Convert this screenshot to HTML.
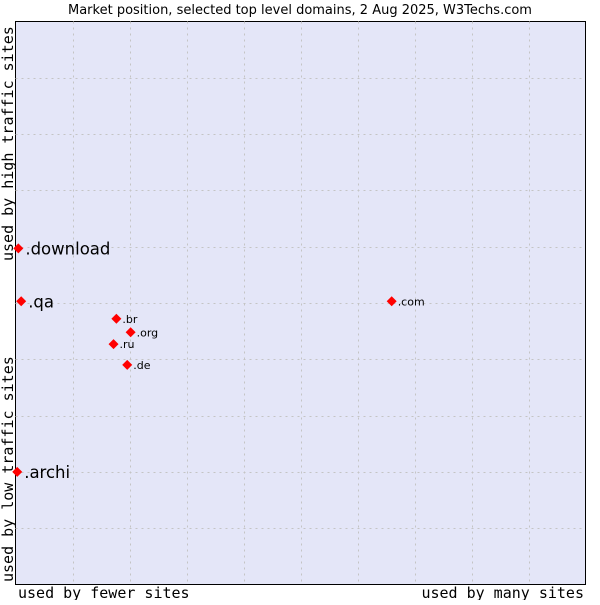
<!DOCTYPE html>
<html><head><meta charset="utf-8"><style>
body{margin:0;background:#fff;}
svg text{font-family:"DejaVu Sans",sans-serif;}
</style></head><body>
<svg width="600" height="600" xmlns="http://www.w3.org/2000/svg">
<text x="300" y="14" text-anchor="middle" font-size="13" fill="#000">Market position, selected top level domains, 2 Aug 2025, W3Techs.com</text>
<rect x="15.5" y="21.5" width="570" height="563" fill="#e4e6f8" stroke="#000" stroke-width="1"/>
<g id="grid"></g>
<g id="points"></g>
<text x="18" y="598" font-size="15" style="font-family:'DejaVu Sans Mono',monospace">used by fewer sites</text>
<text x="584" y="598" text-anchor="end" font-size="15" style="font-family:'DejaVu Sans Mono',monospace">used by many sites</text>
<text transform="translate(13,582) rotate(-90)" font-size="15" style="font-family:'DejaVu Sans Mono',monospace">used by low traffic sites</text>
<text transform="translate(13,261) rotate(-90)" font-size="15" style="font-family:'DejaVu Sans Mono',monospace">used by high traffic sites</text>
</svg>
<script>
const labels=[".download",".qa",".archi",".com",".br",".org",".ru",".de"];
const xVals=[0.05,0.1,0.03,6.6,1.77,2.02,1.72,1.96];
const yVals=[5.97,5.03,2.0,5.03,4.72,4.48,4.27,3.9];
const big=[true,true,true,false,false,false,false,false];
const NS="http://www.w3.org/2000/svg";
const x0=15.5,x1=585.5,y0=584.5,y1=21.5;
const sx=v=>x0+v/10*(x1-x0);
const sy=v=>y0-v/10*(y0-y1);
const grid=document.getElementById('grid');
for(let i=1;i<10;i++){
  const l=document.createElementNS(NS,'line');
  
  
  const x=Math.round(sx(i))+0.5;
  l.setAttribute('x1',x);l.setAttribute('x2',x);l.setAttribute('y1',y1);l.setAttribute('y2',y0);
  l.setAttribute('stroke','#c4c4c4');l.setAttribute('stroke-dasharray','2,4');
  grid.appendChild(l);
  const h=document.createElementNS(NS,'line');
  
  
  const y=Math.round(sy(i))+0.5;
  h.setAttribute('x1',x0);h.setAttribute('x2',x1);h.setAttribute('y1',y);h.setAttribute('y2',y);
  h.setAttribute('stroke','#c4c4c4');h.setAttribute('stroke-dasharray','2,4');
  grid.appendChild(h);
}
const pts=document.getElementById('points');
labels.forEach((lab,i)=>{
  const x=sx(xVals[i]),y=sy(yVals[i]);
  const p=document.createElementNS(NS,'polygon');
  
  
  p.setAttribute('points',`${x},${y-5} ${x+5},${y} ${x},${y+5} ${x-5},${y}`);
  p.setAttribute('fill','#f00');
  pts.appendChild(p);
  const t=document.createElementNS(NS,'text');
  
  
  t.setAttribute('x',x+(big[i]?7:6));
  t.setAttribute('y',y+(big[i]?6:4));
  t.setAttribute('font-size',big[i]?16.5:11);
  t.textContent=lab;
  pts.appendChild(t);
});
</script>
</body></html>
